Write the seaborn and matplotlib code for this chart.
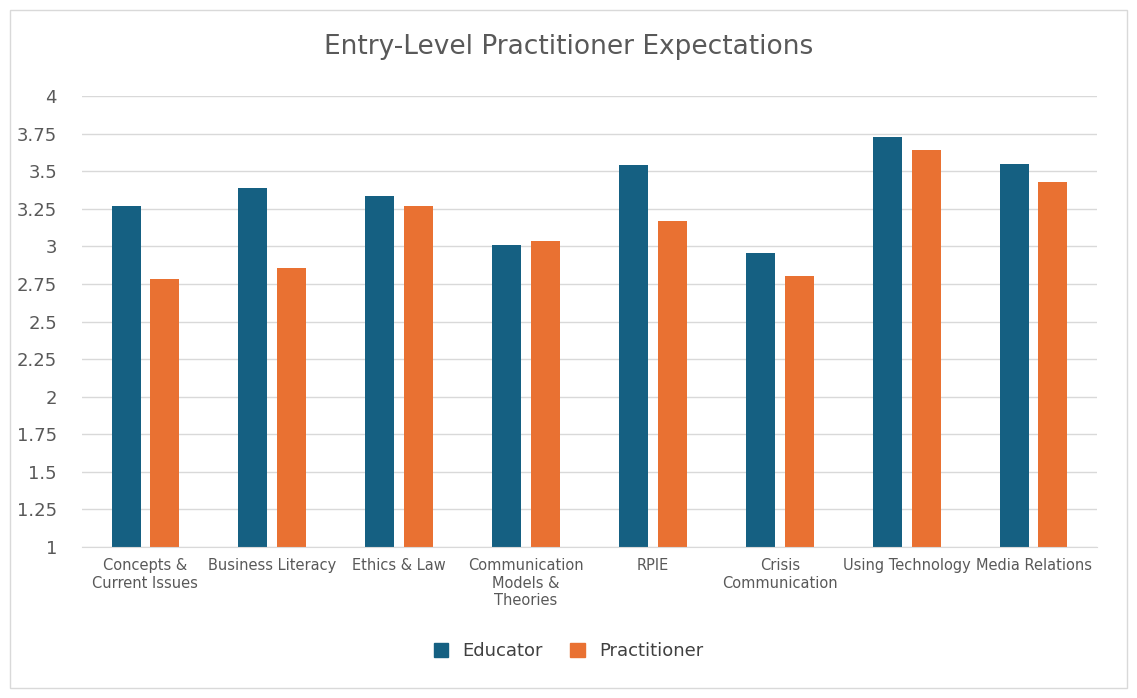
import matplotlib
matplotlib.use("Agg")
import matplotlib.pyplot as plt
import seaborn as sns
import pandas as pd
from matplotlib.patches import Rectangle

categories = ["Concepts &\nCurrent Issues", "Business Literacy", "Ethics & Law",
              "Communication\nModels &\nTheories", "RPIE", "Crisis\nCommunication",
              "Using Technology", "Media Relations"]
educator = [3.27, 3.39, 3.335, 3.01, 3.54, 2.955, 3.73, 3.55]
practitioner = [2.78, 2.855, 3.27, 3.035, 3.17, 2.80, 3.64, 3.43]
yticks = [1, 1.25, 1.5, 1.75, 2, 2.25, 2.5, 2.75, 3, 3.25, 3.5, 3.75, 4]
ytick_labels = ["1", "1.25", "1.5", "1.75", "2", "2.25", "2.5", "2.75", "3", "3.25", "3.5", "3.75", "4"]

df = pd.DataFrame({"cat": categories * 2,
                   "val": educator + practitioner,
                   "series": ["Educator"] * 8 + ["Practitioner"] * 8})

W, H = 1137, 698
fig = plt.figure(figsize=(W / 100, H / 100), dpi=100)
fig.patches.append(Rectangle((10 / W, 10 / H), 1 - 20 / W, 1 - 20 / H, transform=fig.transFigure,
                             fill=False, edgecolor="#D9D9D9", lw=1))
ax = fig.add_axes([82 / W, 1 - 547 / H, (1097 - 82) / W, (547 - 96) / H])
sns.barplot(data=df, x="cat", y="val", hue="series", palette=["#156082", "#E97132"],
            ax=ax, width=0.61, gap=0.25, legend=False, saturation=1)
for p in ax.patches:
    p.set_y(1)
    p.set_height(p.get_height() - 1)
ax.set_ylim(1, 4)
ax.set_yticks(yticks)
ax.set_yticklabels(ytick_labels, fontsize=13, color="#595959")
ax.tick_params(axis="x", labelsize=10.5, colors="#595959", length=0, pad=8)
ax.tick_params(axis="y", length=0, pad=18)
for t in ax.get_xticklabels():
    t.set_verticalalignment("top")
ax.set_xlabel(""); ax.set_ylabel("")
ax.grid(axis="y", color="#D9D9D9", lw=1)
ax.set_axisbelow(True)
for s in ["top", "right", "left"]:
    ax.spines[s].set_visible(False)
ax.spines["bottom"].set_color("#D9D9D9")
fig.text(0.5, 1 - 47 / H, "Entry-Level Practitioner Expectations", ha="center", va="center",
         fontsize=19, color="#595959")
from matplotlib.patches import Patch
fig.legend(handles=[Patch(color="#156082", label="Educator"), Patch(color="#E97132", label="Practitioner")],
           loc="center", bbox_to_anchor=(0.5, 1 - 651 / H), ncol=2, frameon=False,
           fontsize=13, labelcolor="#404040", handlelength=0.8, handleheight=0.8, columnspacing=1.5)
fig.savefig("out.png", dpi=100)
